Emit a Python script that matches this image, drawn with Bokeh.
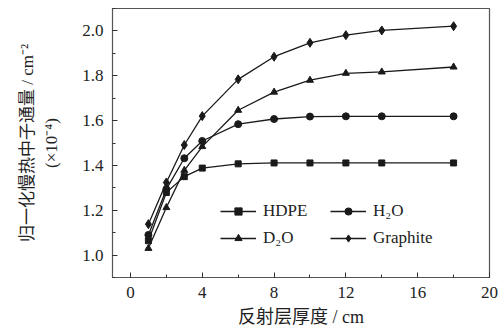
from bokeh.plotting import figure
from bokeh.models import Legend, LegendItem, FixedTicker, NumeralTickFormatter
from bokeh.embed import file_html
from bokeh.resources import INLINE

x = [1, 2, 3, 4, 6, 8, 10, 12, 14, 18]
hdpe = [1.064, 1.279, 1.350, 1.388, 1.407, 1.411, 1.411, 1.411, 1.411, 1.411]
h2o = [1.090, 1.294, 1.432, 1.509, 1.584, 1.607, 1.618, 1.619, 1.619, 1.619]
d2o = [1.030, 1.212, 1.378, 1.484, 1.646, 1.727, 1.780, 1.811, 1.817, 1.839]
graphite = [1.138, 1.324, 1.491, 1.620, 1.784, 1.885, 1.947, 1.981, 2.002, 2.021]

x_ticks = [0, 4, 8, 12, 16, 20]
y_ticks = [1.0, 1.2, 1.4, 1.6, 1.8, 2.0]

SERIF = "Liberation Serif, Noto Sans CJK SC"

p = figure(width=503, height=333, output_backend="svg", toolbar_location=None,
           x_range=(-1, 20), y_range=(0.9, 2.1),
           min_border_left=112, min_border_right=14, min_border_top=8, min_border_bottom=56)
p.background_fill_color = "white"
p.border_fill_color = "white"
p.outline_line_color = "#555555"
p.outline_line_width = 1.2
p.grid.visible = False

for ax in (p.xaxis[0], p.yaxis[0]):
    ax.axis_line_color = None
    ax.major_tick_in = 5
    ax.major_tick_out = 0
    ax.minor_tick_in = 3
    ax.minor_tick_out = 0
    ax.major_tick_line_color = "#333333"
    ax.minor_tick_line_color = "#333333"
    ax.major_label_text_font = SERIF
    ax.major_label_text_font_size = "17px"
    ax.major_label_text_color = "#222222"
    ax.axis_label_text_font = SERIF
    ax.axis_label_text_font_style = "normal"
    ax.axis_label_text_color = "#222222"

p.xaxis.ticker = FixedTicker(ticks=x_ticks, minor_ticks=list(range(0, 21, 2)))
p.yaxis.ticker = FixedTicker(ticks=y_ticks, minor_ticks=[round(0.9 + 0.1 * i, 1) for i in range(13)])
p.yaxis.formatter = NumeralTickFormatter(format="0.0")
p.xaxis.major_label_standoff = 9
p.yaxis.major_label_standoff = 9

p.xaxis.axis_label = "反射层厚度 / cm"
p.xaxis.axis_label_text_font_size = "18px"
p.xaxis.axis_label_standoff = 6
p.yaxis.axis_label = "归一化慢热中子通量 / cm⁻²\n(×10⁻⁴)"
p.yaxis.axis_label_text_font_size = "17px"
p.yaxis.axis_label_text_line_height = 1.3
p.yaxis.axis_label_standoff = 18

c = "#1a1a1a"
r_h = [p.line(x, hdpe, line_color=c, line_width=1.3),
       p.scatter(x, hdpe, marker="square", size=6, fill_color=c, line_color=c)]
r_w = [p.line(x, h2o, line_color=c, line_width=1.3),
       p.scatter(x, h2o, marker="circle", size=7, fill_color=c, line_color=c)]
r_d = [p.line(x, d2o, line_color=c, line_width=1.3),
       p.scatter(x, d2o, marker="triangle", size=7, fill_color=c, line_color=c)]
r_g = [p.line(x, graphite, line_color=c, line_width=1.3),
       p.scatter(x, graphite, marker="diamond", size=9, fill_color=c, line_color=c)]

def make_legend(items, loc):
    return Legend(items=items, location=loc,
                  background_fill_alpha=0, border_line_alpha=0,
                  label_text_font=SERIF, label_text_font_size="17px",
                  label_text_color="#222222",
                  glyph_width=36, glyph_height=18, spacing=7, padding=0,
                  label_standoff=7, margin=0)

leg1 = make_legend([LegendItem(label="HDPE", renderers=r_h),
                    LegendItem(label="D₂O", renderers=r_d)], (108, 29))
leg2 = make_legend([LegendItem(label="H₂O", renderers=r_w),
                    LegendItem(label="Graphite", renderers=r_g)], (218, 29))
p.add_layout(leg1, "center")
p.add_layout(leg2, "center")

open("out.html", "w").write(file_html(p, INLINE))
